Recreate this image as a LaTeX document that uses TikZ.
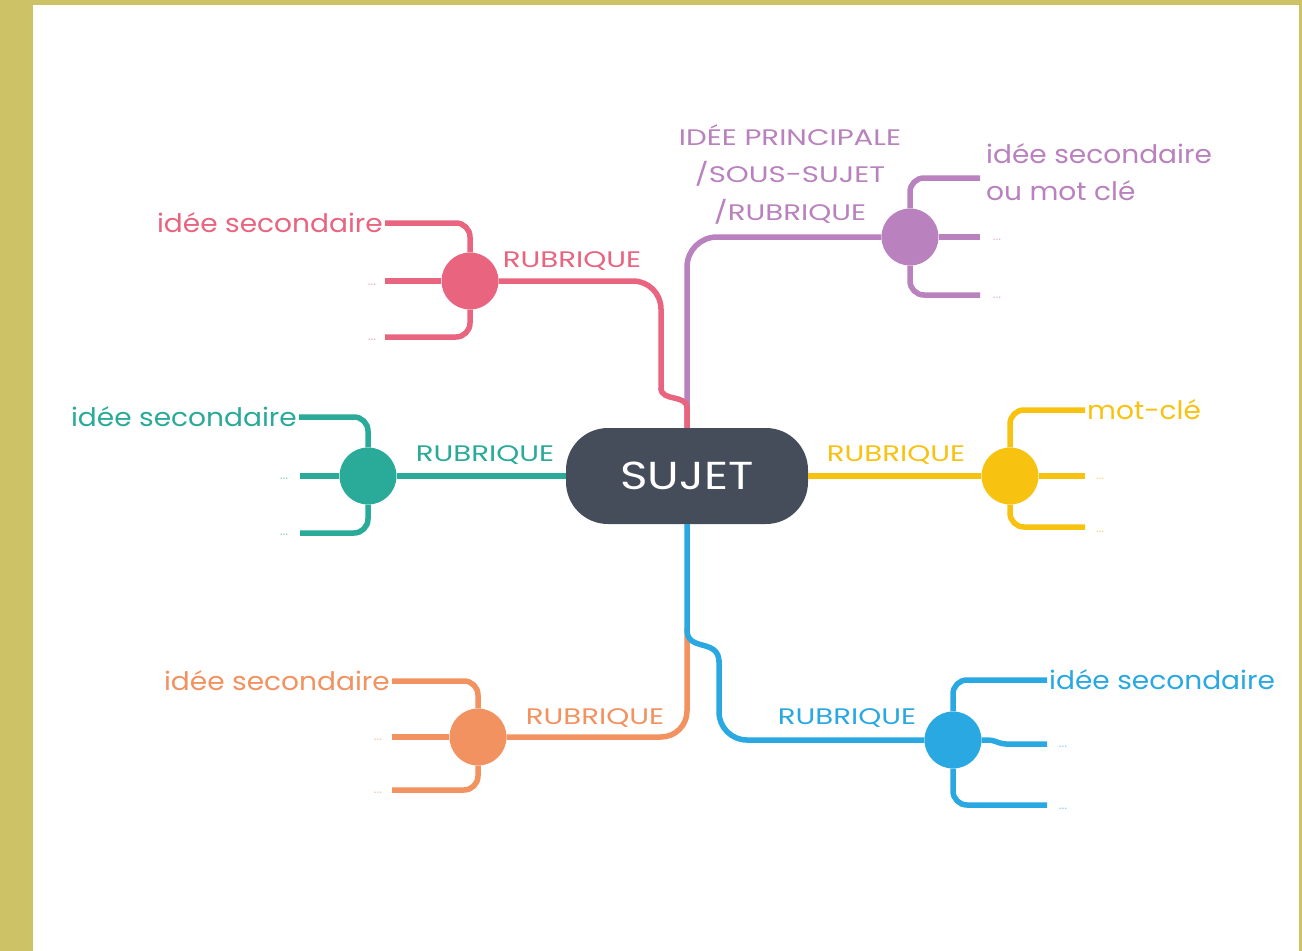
\documentclass[tikz,border=0pt]{standalone}
\usepackage{fontspec}
\setmainfont{Poppins}
\newfontfamily\labfont[FakeStretch=1.1]{Poppins}
\newfontfamily\rubfont[FakeStretch=1.3]{Poppins}
\newfontfamily\sujfont[FakeStretch=1.2]{Poppins}
\definecolor{bgol}{HTML}{CDC266}
\definecolor{dk}{HTML}{454C5A}
\definecolor{pk}{HTML}{E8647F}
\definecolor{pu}{HTML}{B982BE}
\definecolor{ye}{HTML}{F8C210}
\definecolor{te}{HTML}{2AAA98}
\definecolor{orr}{HTML}{F29260}
\definecolor{bl}{HTML}{2AA8E2}
\tikzset{
  br/.style={line width=5.5pt, draw=#1},
  sub/.style={line width=5.5pt, draw=#1, rounded corners=14pt},
  hub/.style={circle, fill=#1, minimum size=57pt, inner sep=0pt},
  lab/.style={text=#1, font=\labfont\fontsize{25.5}{37}\selectfont, inner sep=2pt},
  rub/.style={text=#1, font=\rubfont\fontsize{22.5}{37.5}\selectfont, inner sep=0pt},
  ell/.style={text=#1!55, font=\fontsize{13}{13}\selectfont, inner sep=0pt},
}
\begin{document}
\begin{tikzpicture}[x=1pt,y=-1pt]
\useasboundingbox (0,0) rectangle (1302,951);
\fill[bgol] (0,0) rectangle (1302,951);
\fill[white] (33,5) rectangle (1299,951);

% central node
\node[fill=dk, rounded corners=42pt, minimum width=242pt, minimum height=96pt, inner sep=0pt,
      text=white, font=\sujfont\fontsize{39}{40}\selectfont] (sujet) at (687,476) {SUJET};

% hubs
\node[hub=pk] (pc) at (470,281) {};
\node[hub=pu] (uc) at (910,237) {};
\node[hub=ye] (yc) at (1010,476) {};
\node[hub=te] (tc) at (368,476) {};
\node[hub=orr] (oc) at (478,737) {};
\node[hub=bl] (bc) at (953,740) {};

% trunks
\draw[br=pu, rounded corners=30pt] (sujet.north) -- (687,237) -- (uc);
\draw[br=pk] (sujet.north) -- (687,408) .. controls (687,394) and (661,402) .. (661,388);
\draw[br=pk, rounded corners=28pt] (661,390) -- (661,281) -- (pc);
\draw[br=ye] (sujet.east) -- (yc);
\draw[br=te] (sujet.west) -- (tc);
\draw[br=orr, rounded corners=26pt] (687,628) -- (687,737) -- (oc);
\draw[br=bl] (sujet.south) -- (687,630) .. controls (687,652) and (719,638) .. (719,662);
\draw[br=bl, rounded corners=28pt] (719,660) -- (719,740) -- (bc);

% branch labels
\node[rub=pk] (rpk) at (572,261) {RUBRIQUE};
\node[rub=pu, align=center] (rpu) at (790,174) {IDÉE PRINCIPALE\\/SOUS-SUJET\\/RUBRIQUE};
\node[rub=ye] (rye) at (896,455) {RUBRIQUE};
\node[rub=te] (rte) at (485,455) {RUBRIQUE};
\node[rub=orr] (ror) at (595,718) {RUBRIQUE};
\node[rub=bl] (rbl) at (847,718) {RUBRIQUE};

% pink children
\node[lab=pk, anchor=east] (pk1) at (385,223) {idée secondaire};
\node[ell=pk] (pk2) at (372,285) {...};
\node[ell=pk] (pk3) at (372,340) {...};
\draw[sub=pk] (pc) |- (pk1.east);
\draw[sub=pk] (pc) -- (385,281);
\draw[sub=pk] (pc) |- (385,337);

% purple children
\node[lab=pu, anchor=west, align=left] (pu1) at (984,172) {idée secondaire\\ou mot clé};
\node[ell=pu] (pu2) at (997,240) {...};
\node[ell=pu] (pu3) at (997,298) {...};
\draw[sub=pu] (uc) |- (980,178);
\draw[sub=pu] (uc) -- (980,237);
\draw[sub=pu] (uc) |- (980,295);

% yellow children
\node[lab=ye, anchor=west] (ye1) at (1085,410) {mot-clé};
\node[ell=ye] (ye2) at (1100,479) {...};
\node[ell=ye] (ye3) at (1100,532) {...};
\draw[sub=ye] (yc) |- (ye1.west);
\draw[sub=ye] (yc) -- (1085,476);
\draw[sub=ye] (yc) |- (1085,527);

% teal children
\node[lab=te, anchor=east] (te1) at (299,417) {idée secondaire};
\node[ell=te] (te2) at (284,479) {...};
\node[ell=te] (te3) at (284,535) {...};
\draw[sub=te] (tc) |- (te1.east);
\draw[sub=te] (tc) -- (300,476);
\draw[sub=te] (tc) |- (300,533);

% orange children
\node[lab=orr, anchor=east] (or1) at (392,681) {idée secondaire};
\node[ell=orr] (or2) at (378,740) {...};
\node[ell=orr] (or3) at (378,793) {...};
\draw[sub=orr] (oc) |- (or1.east);
\draw[sub=orr] (oc) -- (392,737);
\draw[sub=orr] (oc) |- (392,790);

% blue children
\node[lab=bl, anchor=west] (bl1) at (1047,680) {idée secondaire};
\node[ell=bl] (bl2) at (1063,747) {...};
\node[ell=bl] (bl3) at (1063,809) {...};
\draw[sub=bl] (bc) |- (bl1.west);
\draw[sub=bl, rounded corners=4pt] (bc) -- (992,740) -- (1002,744) -- (1047,744);
\draw[sub=bl] (bc) |- (1047,805);
\end{tikzpicture}
\end{document}
